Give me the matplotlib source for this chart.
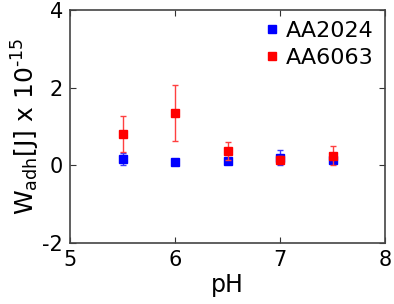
import matplotlib
matplotlib.use("Agg")
import matplotlib.pyplot as plt

plt.rcParams["font.family"] = ["DejaVu Sans"]
plt.rcParams["mathtext.fontset"] = "dejavusans"
plt.rcParams["axes.unicode_minus"] = False

ph = [5.5, 6.0, 6.5, 7.0, 7.5]
aa2024 = [0.17, 0.09, 0.10, 0.20, 0.15]
aa2024_err = [0.16, 0.03, 0.05, 0.19, 0.10]
aa6063 = [0.80, 1.35, 0.37, 0.15, 0.25]
aa6063_err = [0.46, 0.73, 0.23, 0.10, 0.24]

xticks = [5, 6, 7, 8]
yticks = [-2, 0, 2, 4]

fig = plt.figure(figsize=(3.94, 3.04), dpi=100)
ax = fig.add_axes([70 / 394, 1 - 243 / 304, 315 / 394, 233 / 304])

# error bars first, markers on top (legend shows the markers only)
ax.errorbar(ph, aa2024, yerr=aa2024_err, fmt="none", elinewidth=1, capsize=2,
            capthick=1, ecolor="#3a3aff")
ax.plot(ph, aa2024, "s", color="#0000ff", ms=6, label="AA2024")
ax.errorbar(ph, aa6063, yerr=aa6063_err, fmt="none", elinewidth=1, capsize=2,
            capthick=1, ecolor="#ff4040")
ax.plot(ph, aa6063, "s", color="#ff0000", ms=6, label="AA6063")

ax.set_xlim(5, 8)
ax.set_ylim(-2, 4)
ax.set_xticks(xticks)
ax.set_yticks(yticks)
ax.tick_params(direction="in", top=True, right=True, length=4, width=0.8,
               labelsize=15, pad=5, colors="#333333", labelcolor="black")
for s in ax.spines.values():
    s.set_color("#444444")
    s.set_linewidth(1.2)

ax.set_xlabel("pH", fontsize=17, labelpad=2)
# U+2010 hyphen keeps the exponent sign short, as in the original
ax.set_ylabel("W$_{\\rm adh}$[J] x 10$^{\u201015}$", fontsize=18, labelpad=0)

ax.legend(loc="upper right", frameon=False, fontsize=16, handlelength=0.5,
          handletextpad=0.4, borderaxespad=0.1, labelspacing=0.3, numpoints=1)

fig.savefig("out.png", dpi=100)
